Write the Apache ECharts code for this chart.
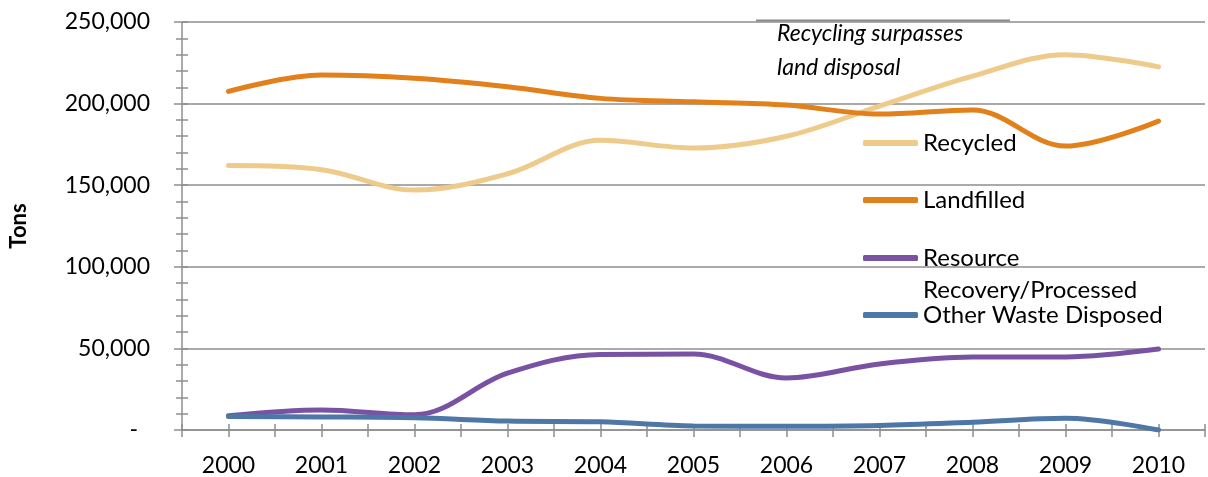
<!DOCTYPE html>
<html><head><meta charset="utf-8">
<script src="https://cdn.jsdelivr.net/npm/echarts@6/dist/echarts.min.js"></script>
<style>html,body{margin:0;padding:0;background:#fff}#c{width:1208px;height:477px}</style>
</head><body><div id="c"></div>
<script>
const years = [2000, 2001, 2002, 2003, 2004, 2005, 2006, 2007, 2008, 2009, 2010];
const recycled = [162000, 159500, 147000, 157000, 177500, 172800, 180000, 198500, 216800, 230000, 222500];
const landfilled = [207500, 217500, 215500, 210300, 203200, 201100, 199100, 193600, 196100, 174000, 189300];
const resource = [8800, 12300, 9300, 34800, 46300, 46500, 31900, 40500, 44700, 44800, 49600];
const other = [8300, 8000, 7500, 5500, 5000, 2500, 2300, 2800, 4800, 7200, 0];
const seriesNames = ['Recycled', 'Landfilled', 'Resource Recovery/Processed', 'Other Waste Disposed'];
const seriesColors = ['#EECB8A', '#E2811B', '#7A52A3', '#4E77A8'];
const noteLines = ['Recycling surpasses', 'land disposal'];

const FONT = 'Lato';
const gridColor = '#8E8E8E';
const allData = [recycled, landfilled, resource, other];

const chart = echarts.init(document.getElementById('c'), null, {renderer: 'canvas'});

const series = seriesNames.map((n, k) => ({
  name: n, type: 'line', smooth: 0.35, symbol: 'none',
  xAxisIndex: 0, yAxisIndex: 0,
  data: years.map((y, i) => [y, allData[k][i]]),
  lineStyle: {color: seriesColors[k], width: 5, cap: 'round'},
  itemStyle: {color: seriesColors[k]},
  z: 3 + k
}));

const legendTops = [143, 200, 258, 315];
const legends = seriesNames.map((n, k) => {
  const multi = k === 2;
  return {
    data: [n], left: 863, top: multi ? legendTops[k] - 48 : legendTops[k] - 14,
    padding: 0, orient: 'vertical', itemWidth: 55, itemHeight: 6, icon: 'roundRect',
    selectedMode: false,
    formatter: multi ? () => '\nResource\nRecovery/Processed' : undefined,
    textStyle: multi
      ? {fontFamily: FONT, fontSize: 24, color: '#000', lineHeight: 32}
      : {fontFamily: FONT, fontSize: 24, color: '#000', lineHeight: 28}
  };
});

const option = {
  backgroundColor: '#fff',
  animation: false,
  grid: {left: 180, right: -7, top: 22, bottom: 47, containLabel: false},
  xAxis: [{
    type: 'value', min: 1999.5, max: 2010.5, interval: 0.5,
    axisLine: {show: true, lineStyle: {color: gridColor, width: 1.5}},
    axisTick: {show: true, inside: false, length: 7, lineStyle: {color: gridColor, width: 1.5}},
    axisLabel: {formatter: v => (Math.abs(v - Math.round(v)) < 1e-6 ? String(Math.round(v)) : ''),
      fontFamily: FONT, fontSize: 23, color: '#000', margin: 24, showMinLabel: true, showMaxLabel: true},
    splitLine: {show: false}
  }, {
    type: 'value', min: 1999.5, max: 2010.5, interval: 0.5, position: 'bottom',
    axisLine: {show: false},
    axisTick: {show: true, inside: true, length: 6, lineStyle: {color: gridColor, width: 1.5}},
    axisLabel: {show: false}, splitLine: {show: false}
  }],
  yAxis: [{
    type: 'value', min: 0, max: 250000, interval: 50000,
    name: 'Tons', nameLocation: 'middle', nameGap: 152,
    nameTextStyle: {fontFamily: FONT, fontSize: 22, fontWeight: 'bold', color: '#000'},
    axisLine: {show: true, lineStyle: {color: gridColor, width: 1.5}},
    axisTick: {show: true, inside: false, length: 8, lineStyle: {color: gridColor, width: 1.5}},
    minorTick: {show: true, splitNumber: 5, length: 6, lineStyle: {color: gridColor, width: 1.5}},
    axisLabel: {
      fontFamily: FONT, fontSize: 23, color: '#000', margin: 32,
      formatter: v => v === 0 ? '{d|-}' : v.toLocaleString('en-US'),
      rich: {d: {fontFamily: FONT, fontSize: 23, color: '#000', padding: [0, 12, 0, 0]}}
    },
    splitLine: {show: true, lineStyle: {color: gridColor, width: 1.5}}
  }, {
    type: 'value', min: 0, max: 250000, interval: 50000, position: 'left',
    axisLine: {show: false},
    axisTick: {show: true, inside: true, length: 6, lineStyle: {color: gridColor, width: 1.5}},
    minorTick: {show: true, splitNumber: 5, length: 6, lineStyle: {color: gridColor, width: 1.5}},
    axisLabel: {show: false}, splitLine: {show: false}
  }],
  legend: legends,
  series: series,
  graphic: [
    {type: 'line', shape: {x1: 756, y1: 20.5, x2: 1010, y2: 20.5}, style: {stroke: '#8A8A8A', lineWidth: 2}, z: 10},
    {type: 'text', left: 777, top: 17, style: {text: noteLines.join('\n'), fontFamily: FONT, fontStyle: 'italic', fontSize: 23, lineHeight: 34, fill: '#000'}, z: 10}
  ]
};
chart.setOption(option);
</script></body></html>
